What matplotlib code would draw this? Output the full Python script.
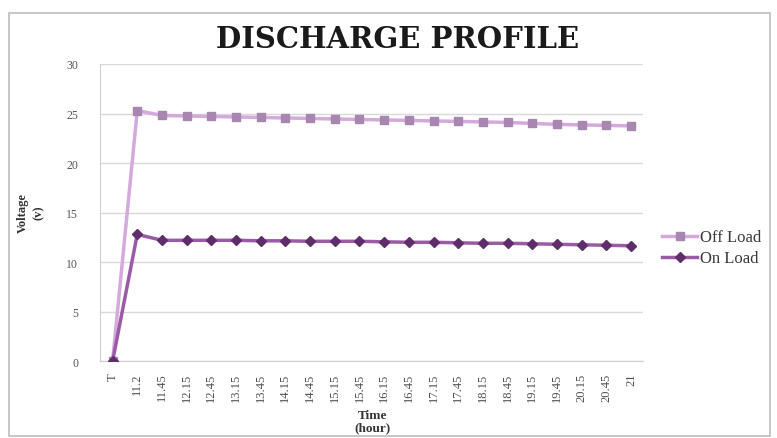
import matplotlib
matplotlib.use("Agg")
import matplotlib.pyplot as plt
from matplotlib.patches import Rectangle

# Discharge readings
time_labels = ["T", "11.2", "11.45", "12.15", "12.45", "13.15", "13.45", "14.15",
               "14.45", "15.15", "15.45", "16.15", "16.45", "17.15", "17.45",
               "18.15", "18.45", "19.15", "19.45", "20.15", "20.45", "21"]
off_load = [0, 25.3, 24.8, 24.75, 24.7, 24.65, 24.6, 24.55, 24.5, 24.45, 24.4,
            24.35, 24.3, 24.25, 24.2, 24.15, 24.1, 24.0, 23.9, 23.85, 23.8, 23.75]
on_load = [0, 12.8, 12.2, 12.2, 12.2, 12.2, 12.15, 12.15, 12.1, 12.1, 12.1,
           12.05, 12.0, 12.0, 11.95, 11.9, 11.9, 11.85, 11.8, 11.75, 11.7, 11.65]
y_ticks = [0, 5, 10, 15, 20, 25, 30]

plt.rcParams["font.family"] = ["Liberation Serif", "DejaVu Serif"]

fig = plt.figure(figsize=(7.77, 4.39), dpi=100)
ax = fig.add_axes([0.129, 0.175, 0.699, 0.677])

x = list(range(len(time_labels)))
ax.plot(x, off_load, color="#d4a9dc", lw=2.5, marker="s", ms=6,
        mfc="#a786b0", mec="#a786b0", label="Off Load", zorder=3)
ax.plot(x, on_load, color="#9b5aa6", lw=2.5, marker="D", ms=5,
        mfc="#5e2d6a", mec="#5e2d6a", label="On Load", zorder=4)

ax.set_xlim(-0.5, len(time_labels) - 0.5)
ax.set_ylim(0, 30)
ax.set_yticks(y_ticks)
ax.set_yticklabels([str(v) for v in y_ticks], fontsize=8.5, color="#555555")
ax.set_xticks(x)
ax.set_xticklabels(time_labels, rotation=90, fontsize=9, color="#4d4d4d")
ax.tick_params(axis="y", length=0, pad=16)
ax.tick_params(axis="x", length=0, pad=8)
ax.yaxis.grid(True, color="#d9d9d9", lw=1)
ax.set_axisbelow(True)
for side in ("top", "right"):
    ax.spines[side].set_visible(False)
ax.spines["left"].set_color("#cfcfcf")
ax.spines["bottom"].set_color("#cfcfcf")

fig.text(0.512, 0.911, "DISCHARGE PROFILE", ha="center", va="center",
         fontsize=21, fontweight="bold", color="#1a1a1a",
         family=["DejaVu Serif"])
fig.text(0.479, 0.038, "Time\n(hour)", ha="center", va="center",
         fontsize=9.5, fontweight="bold", color="#333333", linespacing=1.0)
fig.text(0.04, 0.515, "Voltage\n(v)", ha="center", va="center", rotation=90,
         fontsize=9, fontweight="bold", color="#333333", linespacing=1.4)

fig.legend(*ax.get_legend_handles_labels(), loc="center left",
           bbox_to_anchor=(0.852, 0.433), bbox_transform=fig.transFigure,
           frameon=False, fontsize=12, handlelength=2.1, labelspacing=0.3,
           handletextpad=0.15, borderpad=0, borderaxespad=0,
           labelcolor="#3a3a3a")

fig.patches.append(Rectangle((0.011, 0.005), 0.98, 0.962, transform=fig.transFigure,
                             fill=False, edgecolor="#bdbdbd", lw=1.2))

fig.savefig("out.png", dpi=100)
